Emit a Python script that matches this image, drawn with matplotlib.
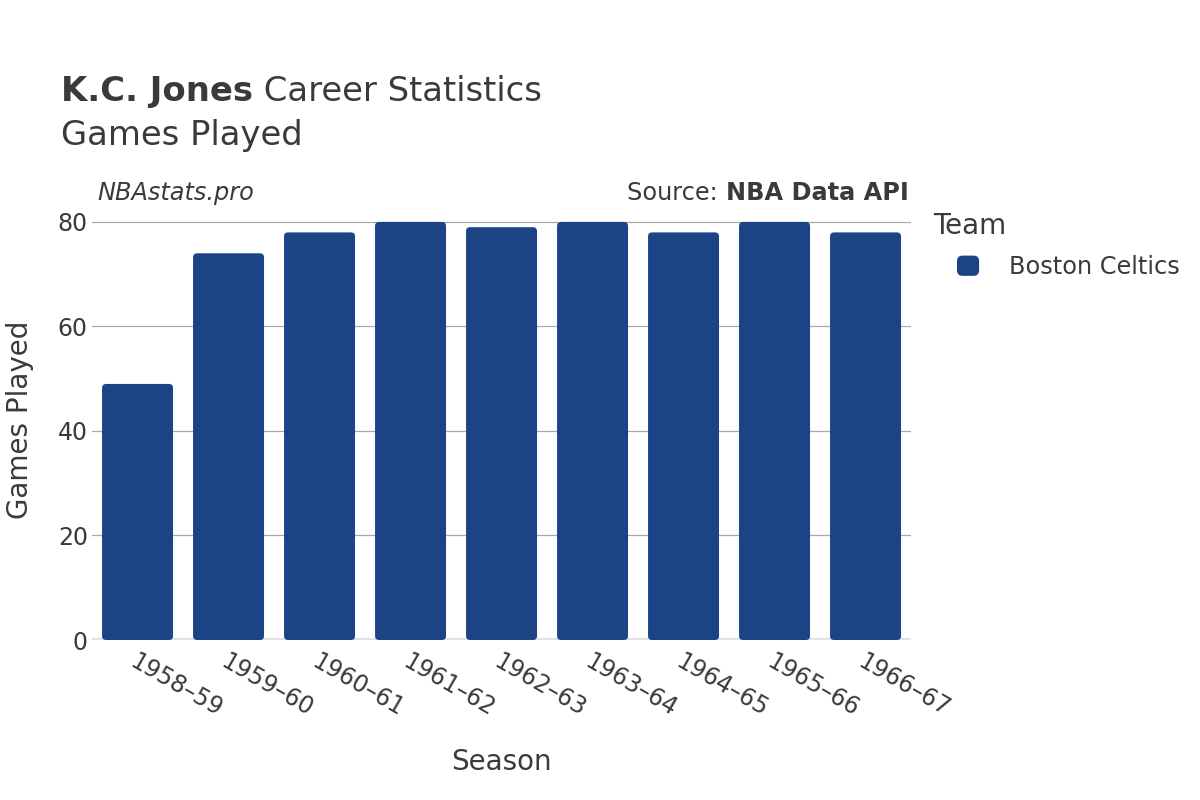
import matplotlib.pyplot as plt
import numpy as np
from matplotlib.patches import FancyBboxPatch, Patch
from matplotlib.legend_handler import HandlerPatch

# season labels and games played
seasons = ['1958-59', '1959-60', '1960-61', '1961-62', '1962-63',
           '1963-64', '1964-65', '1965-66', '1966-67']
games = [49, 74, 78, 80, 79, 80, 78, 80, 78]
team = 'Boston Celtics'

bar_color = '#1c4386'
text_color = '#3a3a3a'

plt.rcParams['font.family'] = ['DejaVu Sans']

fig = plt.figure(figsize=(12, 8), dpi=100)
ax = fig.add_axes([0.0767, 0.2, 0.6825, 0.55])

x = np.arange(len(seasons))
bars = ax.bar(x, games, width=0.78, color=bar_color)

# swap plain bars for ones with slightly rounded corners
for b in bars:
    b.set_visible(False)
    p = FancyBboxPatch((b.get_x(), 0), b.get_width(), b.get_height(),
                       boxstyle='round,pad=0,rounding_size=0.045',
                       mutation_aspect=17.4, facecolor=bar_color,
                       edgecolor='none', zorder=2)
    ax.add_patch(p)

ax.set_xlim(-0.5, len(seasons) - 0.5)
ax.set_ylim(0, 84.2)
ax.set_yticks([0, 20, 40, 60, 80])
ax.yaxis.grid(True, color='#a8a8a8', linewidth=0.9)
ax.set_axisbelow(True)
ax.axhline(0, color='#e2e2e2', linewidth=3, zorder=1)
for s in ax.spines.values():
    s.set_visible(False)

ax.set_xticks(x)
ax.set_xticklabels([s.replace('-', '–') for s in seasons], rotation=-30,
                   ha='left', rotation_mode='anchor', fontsize=17,
                   color=text_color)
ax.tick_params(axis='x', length=0, pad=7)
ax.tick_params(axis='y', length=0, pad=3, labelsize=17, labelcolor=text_color)

ax.set_xlabel('Season', fontsize=20, color=text_color, labelpad=19)
ax.set_ylabel('Games Played', fontsize=20, color=text_color, labelpad=17)

# titles: bold name followed by normal text
fig.canvas.draw()
renderer = fig.canvas.get_renderer()
t1 = fig.text(0.051, 0.874, 'K.C. Jones', fontsize=24.4, fontweight='bold',
              color=text_color, va='baseline')
bb = t1.get_window_extent(renderer)
fig.text(bb.x1 / fig.bbox.width, 0.874, ' Career Statistics', fontsize=24.4,
         color=text_color, va='baseline')
fig.text(0.051, 0.819, 'Games Played', fontsize=24.4, color=text_color,
         va='baseline')

fig.text(0.081, 0.75, 'NBAstats.pro', fontsize=17.3, style='italic',
         color=text_color, va='baseline')
t2 = fig.text(0.757, 0.75, 'NBA Data API', fontsize=17.3, fontweight='bold',
              color=text_color, va='baseline', ha='right')
bb2 = t2.get_window_extent(renderer)
fig.text(bb2.x0 / fig.bbox.width, 0.75, 'Source: ', fontsize=17.3,
         color=text_color, va='baseline', ha='right')

fig.text(933 / 1200, 0.707, 'Team', fontsize=20, color=text_color,
         va='baseline')


class RoundHandler(HandlerPatch):
    def create_artists(self, legend, orig_handle, xdescent, ydescent,
                       width, height, fontsize, trans):
        p = FancyBboxPatch((-xdescent, -ydescent), width, height,
                           boxstyle='round,pad=0,rounding_size=4',
                           facecolor=bar_color, edgecolor='none',
                           transform=trans)
        return [p]


handle = Patch(facecolor=bar_color, edgecolor='none', label=team)
leg = fig.legend(handles=[handle], loc='upper left',
                 bbox_to_anchor=(957 / 1200, 1 - 255 / 800), frameon=False,
                 fontsize=17.3, borderpad=0, borderaxespad=0,
                 handlelength=0.92, handleheight=0.92, handletextpad=1.25,
                 labelcolor=text_color,
                 handler_map={Patch: RoundHandler()})

fig.savefig('out.png', dpi=100)
